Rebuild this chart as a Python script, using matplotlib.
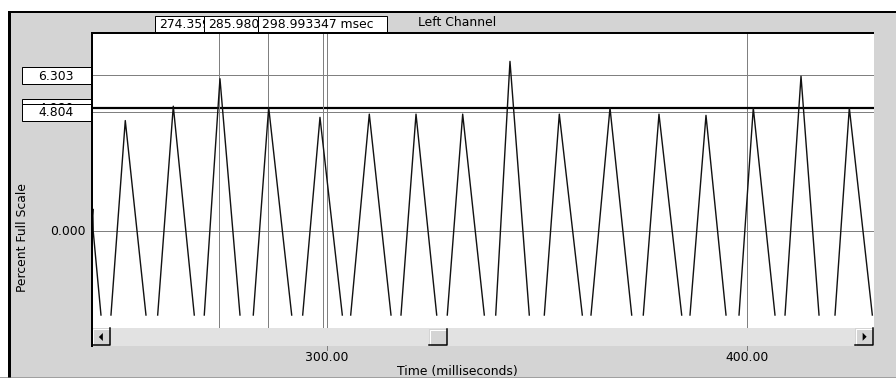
import numpy as np
import matplotlib
matplotlib.use("Agg")
import matplotlib.pyplot as plt
from matplotlib.patches import Rectangle, Polygon

# --- waveform (ms, percent full scale) ---
# each pulse comes up from the bottom of the trace, peaks, and falls out of view
foot_left = [248.53, 259.66, 270.76, 282.44, 294.21, 305.65, 317.63, 328.66,
             340.20, 351.78, 362.90, 375.36, 386.49, 398.17, 409.13, 421.04]
peak_time = [251.94, 263.38, 274.50, 286.11, 298.33, 310.08, 321.21, 332.33,
             343.60, 355.35, 367.43, 379.10, 390.30, 401.57, 412.94, 424.45]
peak_val = [4.47, 5.05, 6.16, 5.00, 4.60, 4.73, 4.73, 4.73,
            6.86, 4.73, 4.98, 4.73, 4.68, 4.98, 6.26, 4.98]
foot_right = [256.87, 268.38, 279.27, 291.59, 303.65, 315.25, 326.14, 337.48,
              348.20, 360.83, 372.60, 384.51, 395.07, 406.74, 417.23, 429.93]
trace_floor = -3.38
lead_t = [244.0, 244.2, 244.3, 246.15]   # partial pulse at left edge
lead_v = [0.45, 0.9, 0.0, -3.38]

cursor_t = [274.35, 285.98, 298.993347]
cursor_lbl = ["274.359", "285.980", "298.993347 msec"]
level_vals = [6.303, 4.980, 4.804]
level_lbl = ["6.303", "4.980", "4.804"]
xticks = [300, 400]
xtick_lbl = ["300.00", "400.00"]

# --- screen geometry (pixels) ---
W, H = 896, 378
PX_L, PX_R, PX_T, PX_B = 91.7, 874, 33, 328
XMIN, XMAX = 243.94, 430.33
YMIN, YMAX = -3.904, 8.006

GRAY = "#d4d4d4"
GRID = "#808080"
FONT = "DejaVu Sans"
FS = 8.9

fig = plt.figure(figsize=(W / 100, H / 100), dpi=100)
fig.patch.set_facecolor("white")

bg = fig.add_axes([0, 0, 1, 1], zorder=0)
bg.set_xlim(0, W)
bg.set_ylim(H, 0)
bg.axis("off")

fg = fig.add_axes([0, 0, 1, 1], zorder=3)
fg.set_xlim(0, W)
fg.set_ylim(H, 0)
fg.axis("off")
fg.patch.set_alpha(0)

ax = fig.add_axes([PX_L / W, 1 - PX_B / H, (PX_R - PX_L) / W, (PX_B - PX_T) / H], zorder=2)
ax.patch.set_alpha(0)
ax.set_xlim(XMIN, XMAX)
ax.set_ylim(YMIN, YMAX)
ax.axis("off")

def px(v):
    return v * 0.72

# window chrome
bg.add_patch(Rectangle((8, 12), W - 8, 364.5, facecolor=GRAY, edgecolor="none"))
bg.plot([0, W], [376.8, 376.8], color="#a0a0a0", lw=px(1))
bg.plot([9, 9], [11, 377], color="black", lw=px(3), solid_capstyle="butt")
bg.plot([8, W], [12, 12], color="black", lw=px(2), solid_capstyle="butt")
bg.add_patch(Rectangle((91, 33), PX_R - 91, 313, facecolor="white", edgecolor="none"))

# header cursor readouts
boxes = [(155, 204), (204, 258.3), (258.3, 387.3)]
for i, ((x0, x1), lbl) in enumerate(zip(boxes, cursor_lbl)):
    r = Rectangle((x0, 16), x1 - x0, 16.3, facecolor="white", edgecolor="black",
                  lw=px(1), zorder=5 + 2 * i)
    bg.add_patch(r)
    t = bg.text(x0 + 4, 24.5, lbl, ha="left", va="center", fontsize=FS, family=FONT,
                zorder=6 + 2 * i)
    t.set_clip_path(r)
bg.text(457, 22.5, "Left Channel", ha="center", va="center", fontsize=FS, family=FONT)

# level readouts on the left (the 4.980 box sits mostly under 4.804)
lvl_boxes = [(67.3, 84.3), (99, 117), (104, 121)]
for i, ((y0, y1), lbl) in enumerate(zip(lvl_boxes, level_lbl)):
    r = Rectangle((22, y0), 68.7, y1 - y0, facecolor="white", edgecolor="black",
                  lw=px(1), zorder=5 + 2 * i)
    bg.add_patch(r)
    t = bg.text(56, (y0 + y1) / 2 + 0.5, lbl, ha="center", va="center", fontsize=FS,
                family=FONT, zorder=6 + 2 * i)
    t.set_clip_path(r)
bg.text(85.5, 231.5, "0.000", ha="right", va="center", fontsize=FS, family=FONT)
bg.text(22.5, 237, "Percent Full Scale", ha="center", va="center", rotation=90,
        fontsize=FS, family=FONT)

# x ticks and title
for xv, lbl in zip(xticks, xtick_lbl):
    xp = PX_L + (xv - XMIN) / (XMAX - XMIN) * (PX_R - PX_L)
    bg.plot([xp, xp], [346, 349.5], color=GRID, lw=px(1))
    bg.text(xp, 357.5, lbl, ha="center", va="center", fontsize=FS, family=FONT)
bg.text(457, 371, "Time (milliseconds)", ha="center", va="center", fontsize=FS, family=FONT)

# scrollbar
bg.add_patch(Rectangle((92, 328), PX_R - 92, 17.5, facecolor="#e2e2e2", edgecolor="none"))
def button(x0, x1, y0, y1, arrow=None):
    bg.add_patch(Rectangle((x0, y0), x1 - x0, y1 - y0, facecolor=GRAY, edgecolor="none"))
    bg.plot([x0 + 0.5, x0 + 0.5, x1 - 1], [y1 - 1, y0 + 0.5, y0 + 0.5], color="white", lw=px(1))
    bg.plot([x0, x1 - 0.7, x1 - 0.7], [y1 - 0.7, y1 - 0.7, y0], color="black", lw=px(1.5))
    cx, cy = (x0 + x1) / 2, (y0 + y1) / 2
    if arrow == "left":
        bg.add_patch(Polygon([[cx - 2.5, cy], [cx + 1.5, cy - 4], [cx + 1.5, cy + 4]],
                             closed=True, facecolor="black", edgecolor="none"))
    elif arrow == "right":
        bg.add_patch(Polygon([[cx + 2.5, cy], [cx - 1.5, cy - 4], [cx - 1.5, cy + 4]],
                             closed=True, facecolor="black", edgecolor="none"))
button(92, 110.7, 328.3, 345.7, "left")
button(429.3, 447.3, 329, 345.5)
button(855, 873.3, 328, 345.5, "right")

# plot frame
fg.plot([91.7, 91.7], [32, 346.5], color="black", lw=px(2), solid_capstyle="butt")
fg.plot([91, PX_R], [32.5, 32.5], color="black", lw=px(2), solid_capstyle="butt")

# grid, levels and cursors
for xv in xticks:
    ax.axvline(xv, color=GRID, lw=px(1))
ax.axhline(0, color=GRID, lw=px(1))
ax.axhline(level_vals[0], color=GRID, lw=px(1))
ax.axhline(level_vals[2], color=GRID, lw=px(1))
ax.axhline(level_vals[1], color="black", lw=px(2.2))
for xv in cursor_t:
    ax.axvline(xv, color=GRID, lw=px(1))

# trace
xs, ys = list(lead_t) + [np.nan], list(lead_v) + [np.nan]
for a, b, v, c in zip(foot_left, peak_time, peak_val, foot_right):
    xs += [a, b, c, np.nan]
    ys += [trace_floor, v, trace_floor, np.nan]
ax.plot(xs, ys, color="#111111", lw=px(1.4))

fig.savefig("out.png", dpi=100, facecolor="white")
